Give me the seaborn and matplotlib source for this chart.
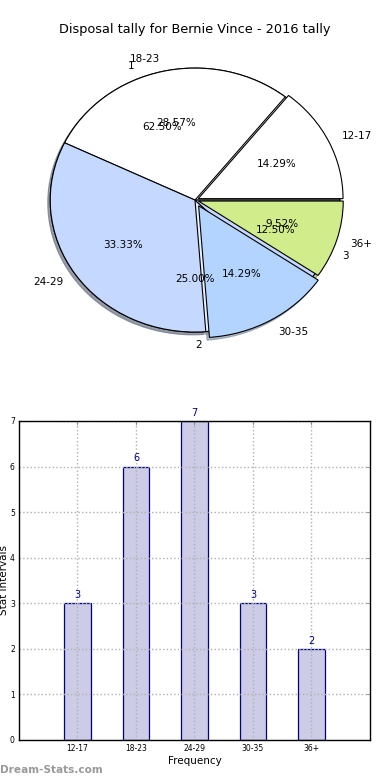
import matplotlib
matplotlib.use("Agg")
import matplotlib.pyplot as plt
import seaborn as sns
import pandas as pd

sns.set_style("white")
plt.rcParams['font.family'] = ['DejaVu Sans']
plt.rcParams['text.color'] = 'black'
plt.rcParams['axes.labelcolor'] = 'black'

title = "Disposal tally for Bernie Vince - 2016 tally"
age_groups = ["12-17", "18-23", "24-29", "30-35", "36+"]
counts = [3, 6, 7, 3, 2]
age_colors = ["#ffffff", "#ffffff", "#c5d8ff", "#b3d4ff", "#d0ec8b"]
age_explode = [0.025, 0.0, 0.0, 0.05, 0.025]

group_labels = ["1", "2", "3"]
group_values = [5, 2, 1]
group_colors = ["#ffffff", "#e8f0ff", "#c6d8ff"]

bar_color = "#cccce6"
edge_color = "#000080"

fig = plt.figure(figsize=(3.9, 7.8), dpi=100)

# ---- pie chart ----
axp = fig.add_axes([0.036, 0.532, 0.928, 0.423])
wedge_kw = dict(edgecolor="black", linewidth=0.8)
shadow_kw = dict(ox=-0.012, oy=-0.015, shade=0.45)
axp.pie(group_values, labels=group_labels, colors=group_colors, autopct="%.2f%%",
        startangle=0, counterclock=True, shadow=shadow_kw, wedgeprops=wedge_kw,
        textprops=dict(fontsize=7.5, color="black"))
axp.pie(counts, labels=age_groups, colors=age_colors, autopct="%.2f%%",
        startangle=0, counterclock=True, shadow=shadow_kw, explode=age_explode,
        wedgeprops=wedge_kw, textprops=dict(fontsize=7.5, color="black"))
axp.set_aspect("auto")
axp.set_xlim(-1.25, 1.25)
axp.set_ylim(-1.25, 1.25)
fig.text(0.5, 0.962, title, ha="center", va="center", fontsize=9.3, color="black")

# ---- bar chart ----
axb = fig.add_axes([0.0487, 0.0513, 0.9, 0.409])
df = pd.DataFrame({"group": age_groups, "count": counts})
sns.barplot(data=df, x="group", y="count", ax=axb, color=bar_color,
            edgecolor=edge_color, linewidth=0.9, width=0.45, saturation=1)
for i, v in enumerate(counts):
    axb.text(i, v + 0.07, str(v), ha="center", va="bottom", fontsize=7, color=edge_color)
axb.set_xlim(-1, 5)
axb.set_ylim(0, 7)
axb.set_yticks(range(0, 8))
axb.grid(True, linestyle=":", color="#b0b0b0", linewidth=1)
axb.set_axisbelow(False)
for s in axb.spines.values():
    s.set_visible(True)
    s.set_color("black")
    s.set_linewidth(1)
    s.set_zorder(5)
axb.tick_params(axis="both", direction="in", labelsize=5.5, top=True, right=True,
                length=3, width=0.6, colors="#888888", labelcolor="black", pad=3)
axb.set_xlabel("Frequency", fontsize=7.5, labelpad=2)
axb.set_ylabel("Stat Intervals", fontsize=7.5, labelpad=1)

fig.text(0.0, 0.013, "Dream-Stats.com", ha="left", va="center", fontsize=7.6,
         color="#999999", fontweight="bold")

fig.savefig("out.png", dpi=100)
